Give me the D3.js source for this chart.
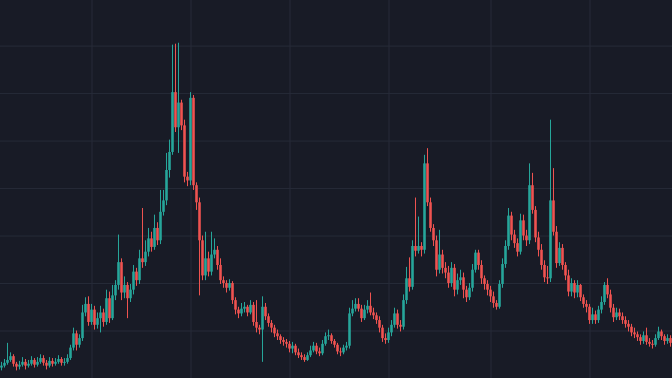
<!DOCTYPE html>
<html>
<head>
<meta charset="utf-8">
<script src="https://cdn.jsdelivr.net/npm/d3@7"></script>
<style>
  html, body { margin: 0; padding: 0; background: #181b26; overflow: hidden; }
</style>
</head>
<body>
<div id="chart"></div>
<script>
'use strict';

// Chart data (price units, one candle per period; open = previous close)

var firstOpen = 11;

var closes = [
  13, 16, 19, 23, 15, 12, 14, 17, 13, 15, 19, 14, 17, 21, 16, 13, 18, 15, 17, 20,
  16, 17, 21, 32, 47, 35, 42, 69, 78, 59, 72, 56, 63, 69, 59, 84, 63, 87, 98, 122,
  90, 98, 84, 93, 112, 103, 126, 122, 133, 147, 138, 158, 145, 175, 187, 219, 238, 301, 264, 290,
  266, 212, 208, 295, 203, 185, 145, 108, 126, 112, 130, 135, 119, 103, 100, 95, 100, 82, 72, 68,
  73, 75, 69, 77, 59, 53, 51, 75, 65, 58, 53, 47, 44, 40, 38, 36, 31, 34, 27, 24,
  22, 19, 24, 29, 34, 28, 26, 36, 44, 45, 39, 35, 28, 27, 32, 34, 68, 73, 78, 73,
  63, 72, 76, 69, 66, 61, 53, 42, 40, 48, 56, 68, 56, 54, 82, 105, 96, 139, 134, 139,
  135, 226, 185, 158, 145, 114, 130, 116, 111, 100, 116, 93, 103, 106, 93, 85, 95, 114, 132, 119,
  105, 99, 93, 86, 79, 75, 99, 120, 139, 171, 151, 142, 133, 166, 150, 145, 203, 177, 148, 135,
  119, 106, 105, 187, 154, 121, 137, 119, 108, 91, 100, 90, 98, 85, 78, 75, 61, 67, 61, 72,
  80, 98, 88, 74, 64, 69, 65, 61, 57, 54, 48, 46, 43, 39, 45, 38, 36, 35, 42, 49,
  44, 39, 42, 37
];

var highs = [
  17, 20, 37, 27, 25, 17, 18, 22, 20, 19, 23, 21, 22, 25, 24, 19, 22, 21, 21, 24,
  22, 21, 25, 35, 53, 50, 46, 77, 85, 86, 78, 76, 69, 76, 73, 93, 91, 98, 103, 151,
  126, 107, 101, 99, 119, 116, 135, 179, 145, 158, 154, 172, 164, 198, 198, 237, 251, 351, 352, 353,
  293, 272, 217, 301, 298, 206, 190, 150, 154, 133, 154, 147, 139, 126, 107, 103, 104, 102, 85, 75,
  79, 80, 77, 82, 80, 82, 56, 86, 79, 68, 61, 56, 51, 46, 43, 41, 39, 38, 36, 31,
  27, 25, 27, 34, 38, 37, 32, 40, 48, 51, 47, 41, 37, 32, 35, 38, 74, 82, 84, 84,
  77, 77, 82, 90, 74, 69, 65, 56, 47, 53, 61, 74, 72, 61, 88, 117, 127, 145, 190, 170,
  143, 235, 242, 190, 162, 150, 156, 135, 122, 118, 122, 120, 110, 114, 111, 97, 100, 120, 135, 135,
  124, 108, 103, 97, 91, 82, 103, 126, 145, 179, 175, 156, 147, 173, 172, 156, 226, 216, 181, 154,
  141, 124, 118, 272, 221, 160, 143, 141, 122, 114, 105, 103, 103, 99, 88, 82, 78, 74, 71, 76,
  86, 101, 105, 93, 78, 74, 73, 69, 65, 61, 57, 53, 49, 46, 49, 53, 42, 40, 46, 54,
  51, 46, 46, 45
];

var lows = [
  8, 11, 14, 17, 12, 8, 9, 12, 9, 11, 13, 11, 12, 15, 13, 9, 11, 12, 13, 15,
  13, 13, 15, 19, 29, 29, 32, 39, 65, 55, 56, 51, 52, 48, 54, 56, 58, 61, 82, 93,
  82, 84, 63, 80, 88, 97, 99, 116, 118, 128, 133, 135, 140, 141, 171, 182, 211, 235, 259, 237,
  261, 206, 202, 203, 198, 177, 87, 103, 103, 107, 108, 126, 114, 99, 95, 90, 92, 78, 67, 63,
  65, 69, 65, 67, 55, 48, 46, 17, 61, 54, 48, 43, 40, 36, 34, 32, 27, 26, 24, 21,
  19, 17, 18, 22, 27, 25, 23, 24, 34, 40, 36, 32, 25, 23, 25, 29, 31, 65, 70, 70,
  59, 61, 68, 66, 62, 57, 48, 38, 36, 37, 44, 53, 52, 49, 51, 78, 91, 93, 128, 131,
  128, 131, 181, 154, 139, 107, 110, 110, 105, 95, 96, 86, 88, 98, 84, 80, 82, 91, 111, 114,
  99, 93, 87, 80, 74, 72, 73, 95, 116, 135, 145, 137, 128, 130, 145, 139, 141, 173, 143, 128,
  114, 101, 99, 101, 150, 116, 118, 114, 103, 86, 86, 84, 85, 81, 74, 69, 57, 57, 57, 58,
  68, 77, 84, 69, 59, 61, 61, 57, 53, 49, 44, 42, 39, 35, 36, 35, 33, 31, 33, 40,
  40, 35, 36, 33
];

// time gridlines fall on these candle indices; price gridlines on these levels
var timeTicks = [30, 63, 96, 129, 163, 196];
var priceTicks = [50, 100, 150, 200, 250, 300, 350];

var upColor = "#26a69a";
var downColor = "#ef5350";

var width = 672, height = 378;

var candles = closes.map(function(c, i) {
    return {
        i: i,
        open: i === 0 ? firstOpen : closes[i - 1],
        high: highs[i],
        low: lows[i],
        close: c
    };
});

var x = d3.scaleLinear()
    .domain([-0.5, candles.length - 0.5])
    .range([0, width]);

var y = d3.scaleLinear()
    .domain([0, 398])
    .range([height, 0]);

var bodyW = (x(1) - x(0)) * 0.86;

var svg = d3.select("#chart")
    .append("svg")
    .attr("width", width)
    .attr("height", height);

svg.append("rect")
    .attr("width", width)
    .attr("height", height)
    .attr("fill", "#181b26");

// grid

var grid = svg.append("g").attr("class", "grid");

grid.append("g")
    .attr("transform", "translate(0," + height + ")")
    .call(d3.axisBottom(x).tickValues(timeTicks).tickSize(-height).tickFormat(""))
    .call(function(g) { g.select(".domain").remove(); });

grid.append("g")
    .call(d3.axisLeft(y).tickValues(priceTicks).tickSize(-width).tickFormat(""))
    .call(function(g) { g.select(".domain").remove(); });

grid.selectAll(".tick line")
    .attr("stroke", "#262b38")
    .attr("stroke-width", 1);

// candles

var candle = svg.append("g")
    .selectAll("g")
    .data(candles)
    .enter()
    .append("g")
    .attr("fill", function(d) { return d.close >= d.open ? upColor : downColor; })
    .attr("stroke", function(d) { return d.close >= d.open ? upColor : downColor; });

candle.append("line")
    .attr("x1", function(d) { return x(d.i); })
    .attr("x2", function(d) { return x(d.i); })
    .attr("y1", function(d) { return y(d.high); })
    .attr("y2", function(d) { return y(d.low); })
    .attr("stroke-width", 1);

candle.append("rect")
    .attr("x", function(d) { return x(d.i) - bodyW / 2; })
    .attr("width", bodyW)
    .attr("y", function(d) { return y(Math.max(d.open, d.close)); })
    .attr("height", function(d) { return Math.max(1, Math.abs(y(d.open) - y(d.close))); })
    .attr("stroke", "none");

</script>
</body>
</html>
